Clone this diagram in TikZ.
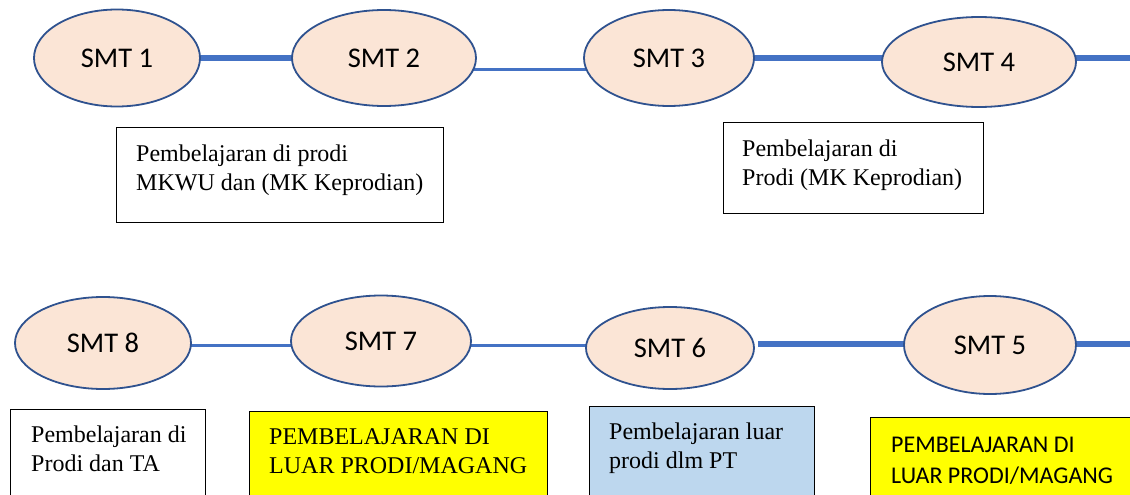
\documentclass[tikz,border=0pt]{standalone}
\usepackage{fontspec}
\setmainfont{Liberation Serif}
\newfontfamily\calibfont{Carlito}
\usetikzlibrary{shapes.geometric,backgrounds}
\definecolor{peach}{HTML}{FBE5D6}
\definecolor{edgeblue}{HTML}{2F528F}
\definecolor{linkblue}{HTML}{4472C4}
\definecolor{paleblue}{HTML}{BDD7EE}
\definecolor{brightyellow}{HTML}{FFFF00}
\begin{document}
\begin{tikzpicture}[x=1pt,y=-1pt,
  smt/.style={ellipse, draw=edgeblue, line width=1.8pt, fill=peach, inner sep=0pt,
    font=\calibfont\fontsize{28.5}{32}\selectfont},
  linkthick/.style={draw=linkblue, line width=5.5pt},
  linkthin/.style={draw=linkblue, line width=3pt},
  box/.style={draw=black, line width=1.2pt, inner sep=0pt, anchor=north west},
  boxtext/.style={anchor=base west, align=left, inner sep=0pt,
    font=\fontsize{24}{29}\selectfont},
  boxsans/.style={boxtext, font=\calibfont\fontsize{24}{31}\selectfont}]
\clip (0,0) rectangle (1130,495);
% semester ellipses
\node[smt, minimum width=166pt, minimum height=97pt] (s1) at (117,58) {SMT 1};
\node[smt, minimum width=184pt, minimum height=96pt] (s2) at (384,58) {SMT 2};
\node[smt, minimum width=170pt, minimum height=96pt] (s3) at (669,58) {SMT 3};
\node[smt, minimum width=194pt, minimum height=90pt] (s4) at (979,62) {SMT 4};
\node[smt, minimum width=176pt, minimum height=92pt] (s8) at (103,343) {SMT 8};
\node[smt, minimum width=180pt, minimum height=91pt] (s7) at (381,341) {SMT 7};
\node[smt, minimum width=168pt, minimum height=82pt] (s6) at (670,348) {SMT 6};
\node[smt, minimum width=172pt, minimum height=98pt] (s5) at (990,345) {SMT 5};
\coordinate (r1) at (1130,58);
\coordinate (r2) at (1130,344);
% connectors
\begin{scope}[on background layer]
\draw[linkthick] (s1.center) -- (s2.center);
\draw[linkthin] ([yshift=-12pt]s2.center) -- ([yshift=-12pt]s3.center);
\draw[linkthick] (s3.center) -- ([yshift=4pt]s4.center);
\draw[linkthick] ([yshift=4pt]s4.center) -- (r1);
\draw[linkthin] ([yshift=-2pt]s8.center) -- ([yshift=-4pt]s7.center);
\draw[linkthin] ([yshift=-4pt]s7.center) -- ([yshift=3pt]s6.center);
\draw[linkthick] ([shift={(3pt,4pt)}]s6.east) -- ([yshift=1pt]s5.center);
\draw[linkthick] ([yshift=1pt]s5.center) -- (r2);
\end{scope}
% boxes
\node[box, minimum width=327pt, minimum height=95pt, fill=white] (b1) at (116,127) {};
\node[box, minimum width=260pt, minimum height=91pt, fill=white] (b2) at (723,122) {};
\node[box, minimum width=195pt, minimum height=100pt, fill=white] (b8) at (10,409) {};
\node[box, minimum width=298pt, minimum height=100pt, fill=brightyellow] (b7) at (249,411) {};
\node[box, minimum width=225pt, minimum height=100pt, fill=paleblue] (b6) at (589,406) {};
\node[box, minimum width=280pt, minimum height=100pt, fill=brightyellow] (b5) at (870,417) {};
% box texts (anchor = baseline of last line)
\node[boxtext] (t1) at (136,190) {Pembelajaran di prodi\\MKWU dan (MK Keprodian)};
\node[boxtext] (t2) at (742,185) {Pembelajaran di\\Prodi (MK Keprodian)};
\node[boxtext] (t8) at (31,471) {Pembelajaran di\\Prodi dan TA};
\node[boxtext] (t7) at (269,473) {PEMBELAJARAN DI\\LUAR PRODI/MAGANG};
\node[boxtext] (t6) at (609,468) {Pembelajaran luar\\prodi dlm PT};
\node[boxsans] (t5) at (891,483) {PEMBELAJARAN DI\\LUAR PRODI/MAGANG};
\end{tikzpicture}
\end{document}
